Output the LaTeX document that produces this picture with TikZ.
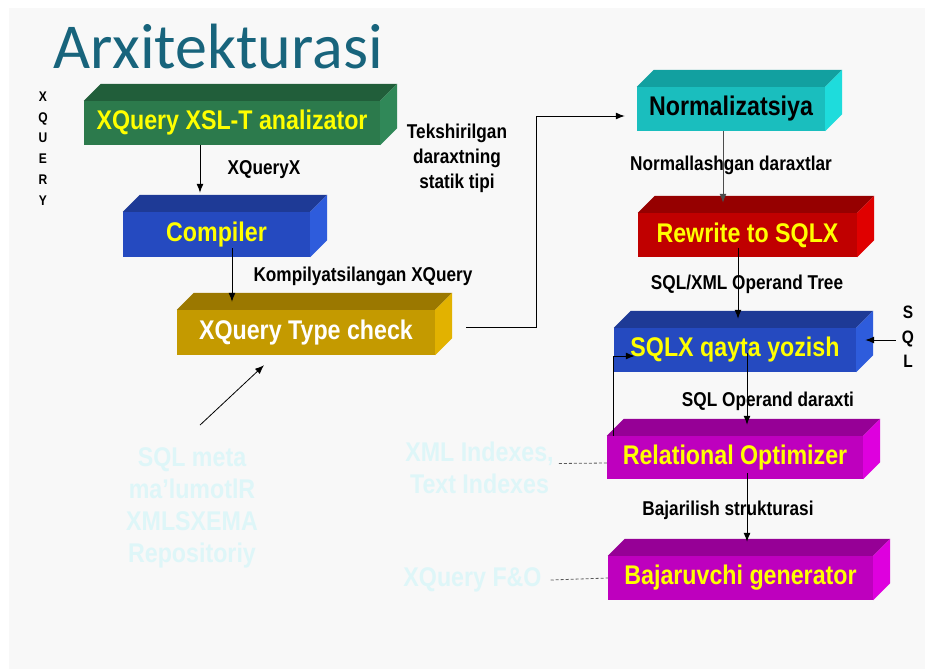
\documentclass[tikz,border=0pt]{standalone}
\usepackage{fontspec}
\setmainfont{Liberation Sans}
\newfontfamily\slidefont{Liberation Sans}[FakeStretch=0.86]
\newfontfamily\titlefont{Carlito}
\usetikzlibrary{arrows.meta}

\definecolor{slidebg}{RGB}{248,248,248}
\definecolor{titlecol}{RGB}{24,100,124}
\definecolor{barYellow}{RGB}{255,255,0}
\definecolor{paletext}{RGB}{222,246,248}
\definecolor{greenF}{RGB}{44,122,76}
\definecolor{greenT}{RGB}{33,94,58}
\definecolor{greenS}{RGB}{48,136,88}
\definecolor{blueF}{RGB}{37,74,192}
\definecolor{blueT}{RGB}{30,58,150}
\definecolor{blueS}{RGB}{46,92,220}
\definecolor{goldF}{RGB}{196,154,0}
\definecolor{goldT}{RGB}{155,120,0}
\definecolor{goldS}{RGB}{226,178,0}
\definecolor{cyanF}{RGB}{26,190,190}
\definecolor{cyanT}{RGB}{18,160,160}
\definecolor{cyanS}{RGB}{30,220,220}
\definecolor{redF}{RGB}{192,0,0}
\definecolor{redT}{RGB}{150,0,0}
\definecolor{redS}{RGB}{224,0,0}
\definecolor{magF}{RGB}{190,0,190}
\definecolor{magT}{RGB}{150,0,150}
\definecolor{magS}{RGB}{222,0,222}

\tikzset{
  bar/.style={inner sep=0pt, minimum height=44pt, text=barYellow,
    font=\slidefont\bfseries\fontsize{27}{30}\selectfont},
  lbl/.style={inner sep=0pt, align=center,
    font=\slidefont\bfseries\fontsize{20}{25}\selectfont},
  pale/.style={inner sep=0pt, align=center, text=paletext,
    font=\slidefont\bfseries\fontsize{27}{32}\selectfont},
  link/.style={->, line width=1pt},
  weak/.style={line width=.8pt, gray!70!black, dash pattern=on 3pt off 2pt},
}

\newcommand\barfaces[3]{%
  \fill[#2] (#1.north west) -- ++(17,-17) -- ([shift={(17pt,17pt)}]#1.north east)
    -- (#1.north east) -- cycle;
  \fill[#3] (#1.north east) -- ([shift={(17pt,17pt)}]#1.north east)
    -- ([shift={(17pt,17pt)}]#1.south east) -- (#1.south east) -- cycle;}

\begin{document}
\begin{tikzpicture}[x=1pt, y=-1pt, >={Latex[length=9pt,width=7pt]}]
  \useasboundingbox (0,0) rectangle (925,669);
  \fill[white] (0,0) rectangle (925,669);
  \fill[slidebg] (9,8) rectangle (925,669);

  \node[anchor=base west, inner sep=0pt, text=titlecol,
    font=\titlefont\fontsize{64}{70}\selectfont] (title) at (53,68) {Arxitekturasi};

  \node[bar, fill=greenF, minimum width=296pt] (gen) at (232,123) {XQuery XSL-T analizator};
  \node[bar, fill=blueF, minimum width=187pt, minimum height=45pt] (comp) at (216.5,234.5) {Compiler};
  \node[bar, fill=goldF, minimum width=258pt, minimum height=45pt, text=white] (tchk) at (306,332.5) {XQuery Type check};
  \node[bar, fill=cyanF, minimum width=188pt, text=black] (norm) at (731,109) {Normalizatsiya};
  \node[bar, fill=redF, minimum width=219pt] (rewr) at (747.5,235) {Rewrite to SQLX};
  \node[bar, fill=blueF, minimum width=242pt] (sqlx) at (735,350) {SQLX qayta yozish};
  \node[bar, fill=magF, minimum width=256pt, minimum height=43pt] (ropt) at (735,457.5) {Relational Optimizer};
  \node[bar, fill=magF, minimum width=265pt] (bgen) at (740.5,578) {Bajaruvchi generator};

  \barfaces{gen}{greenT}{greenS}
  \barfaces{comp}{blueT}{blueS}
  \barfaces{tchk}{goldT}{goldS}
  \barfaces{norm}{cyanT}{cyanS}
  \barfaces{rewr}{redT}{redS}
  \barfaces{sqlx}{blueT}{blueS}
  \barfaces{ropt}{magT}{magS}
  \barfaces{bgen}{magT}{magS}

  \node[lbl, font=\slidefont\bfseries\fontsize{14}{20.7}\selectfont] (xq) at (43,148.5) {X\\Q\\U\\E\\R\\Y};
  \node[lbl, font=\slidefont\bfseries\fontsize{18}{24.5}\selectfont] (sqlt) at (908,337) {S\\Q\\L};

  \node[lbl] (l1) at (264,170) {XQueryX};
  \node[lbl] (l2) at (363,276) {Kompilyatsilangan XQuery};
  \node[lbl, font=\slidefont\bfseries\fontsize{20}{25}\selectfont] (l3) at (457,158) {Tekshirilgan\\daraxtning\\statik tipi};
  \node[lbl] (l4) at (731,165) {Normallashgan daraxtlar};
  \node[lbl] (l5) at (747,284) {SQL/XML Operand Tree};
  \node[lbl] (l6) at (768,401) {SQL Operand daraxti};
  \node[lbl] (l7) at (728,510) {Bajarilish strukturasi};

  \node[pale] (meta) at (192,507.5) {SQL meta\\ma’lumotlR\\XMLSXEMA\\Repositoriy};
  \node[pale] (xmli) at (479.5,467.5) {XML Indexes,\\Text Indexes};
  \node[pale] (fo) at (472.5,580) {XQuery F\&O};

  \draw[link] ([xshift=-32pt]gen.south) -- ([xshift=-16.5pt,yshift=19pt]comp.north);
  \draw[link] ([xshift=15.5pt,yshift=9pt]comp.south) -- ([xshift=-74pt,yshift=8pt]tchk.north);
  \draw[link] ([xshift=31pt,yshift=5pt]tchk.east) -- ++(70,0) |- ([xshift=-12pt,yshift=-7pt]norm.west);
  \draw[link, gray!60!black] ([xshift=-8pt]norm.south) -- ([xshift=-24.5pt,yshift=10pt]rewr.north);
  \draw[link] ([xshift=-9.5pt,yshift=9pt]rewr.south) -- ([xshift=3pt,yshift=9pt]sqlx.north);
  \draw[link] ([xshift=12pt,yshift=19pt]sqlx.south) -- ([xshift=12pt,yshift=11pt]ropt.north);
  \draw[link] ([xshift=7pt]ropt.north west) |- ([xshift=21pt,yshift=-6pt]sqlx.west);
  \draw[link] ([xshift=12pt,yshift=6pt]ropt.south) -- ([xshift=6.5pt,yshift=14pt]bgen.north);
  \draw[link] ([xshift=-6pt,yshift=-3pt]sqlt.west) -- ([xshift=9pt,yshift=10pt]sqlx.east);
  \draw[link, line width=.8pt] ([xshift=8pt,yshift=22pt]meta.north) -- ([xshift=-42pt,yshift=-10pt]tchk.south);
  \draw[weak] ([xshift=5pt,yshift=4pt]xmli.east) -- ([yshift=-5.5pt]ropt.west);
  \draw[weak] ([xshift=9pt]fo.east) -- (bgen.west);
\end{tikzpicture}
\end{document}
